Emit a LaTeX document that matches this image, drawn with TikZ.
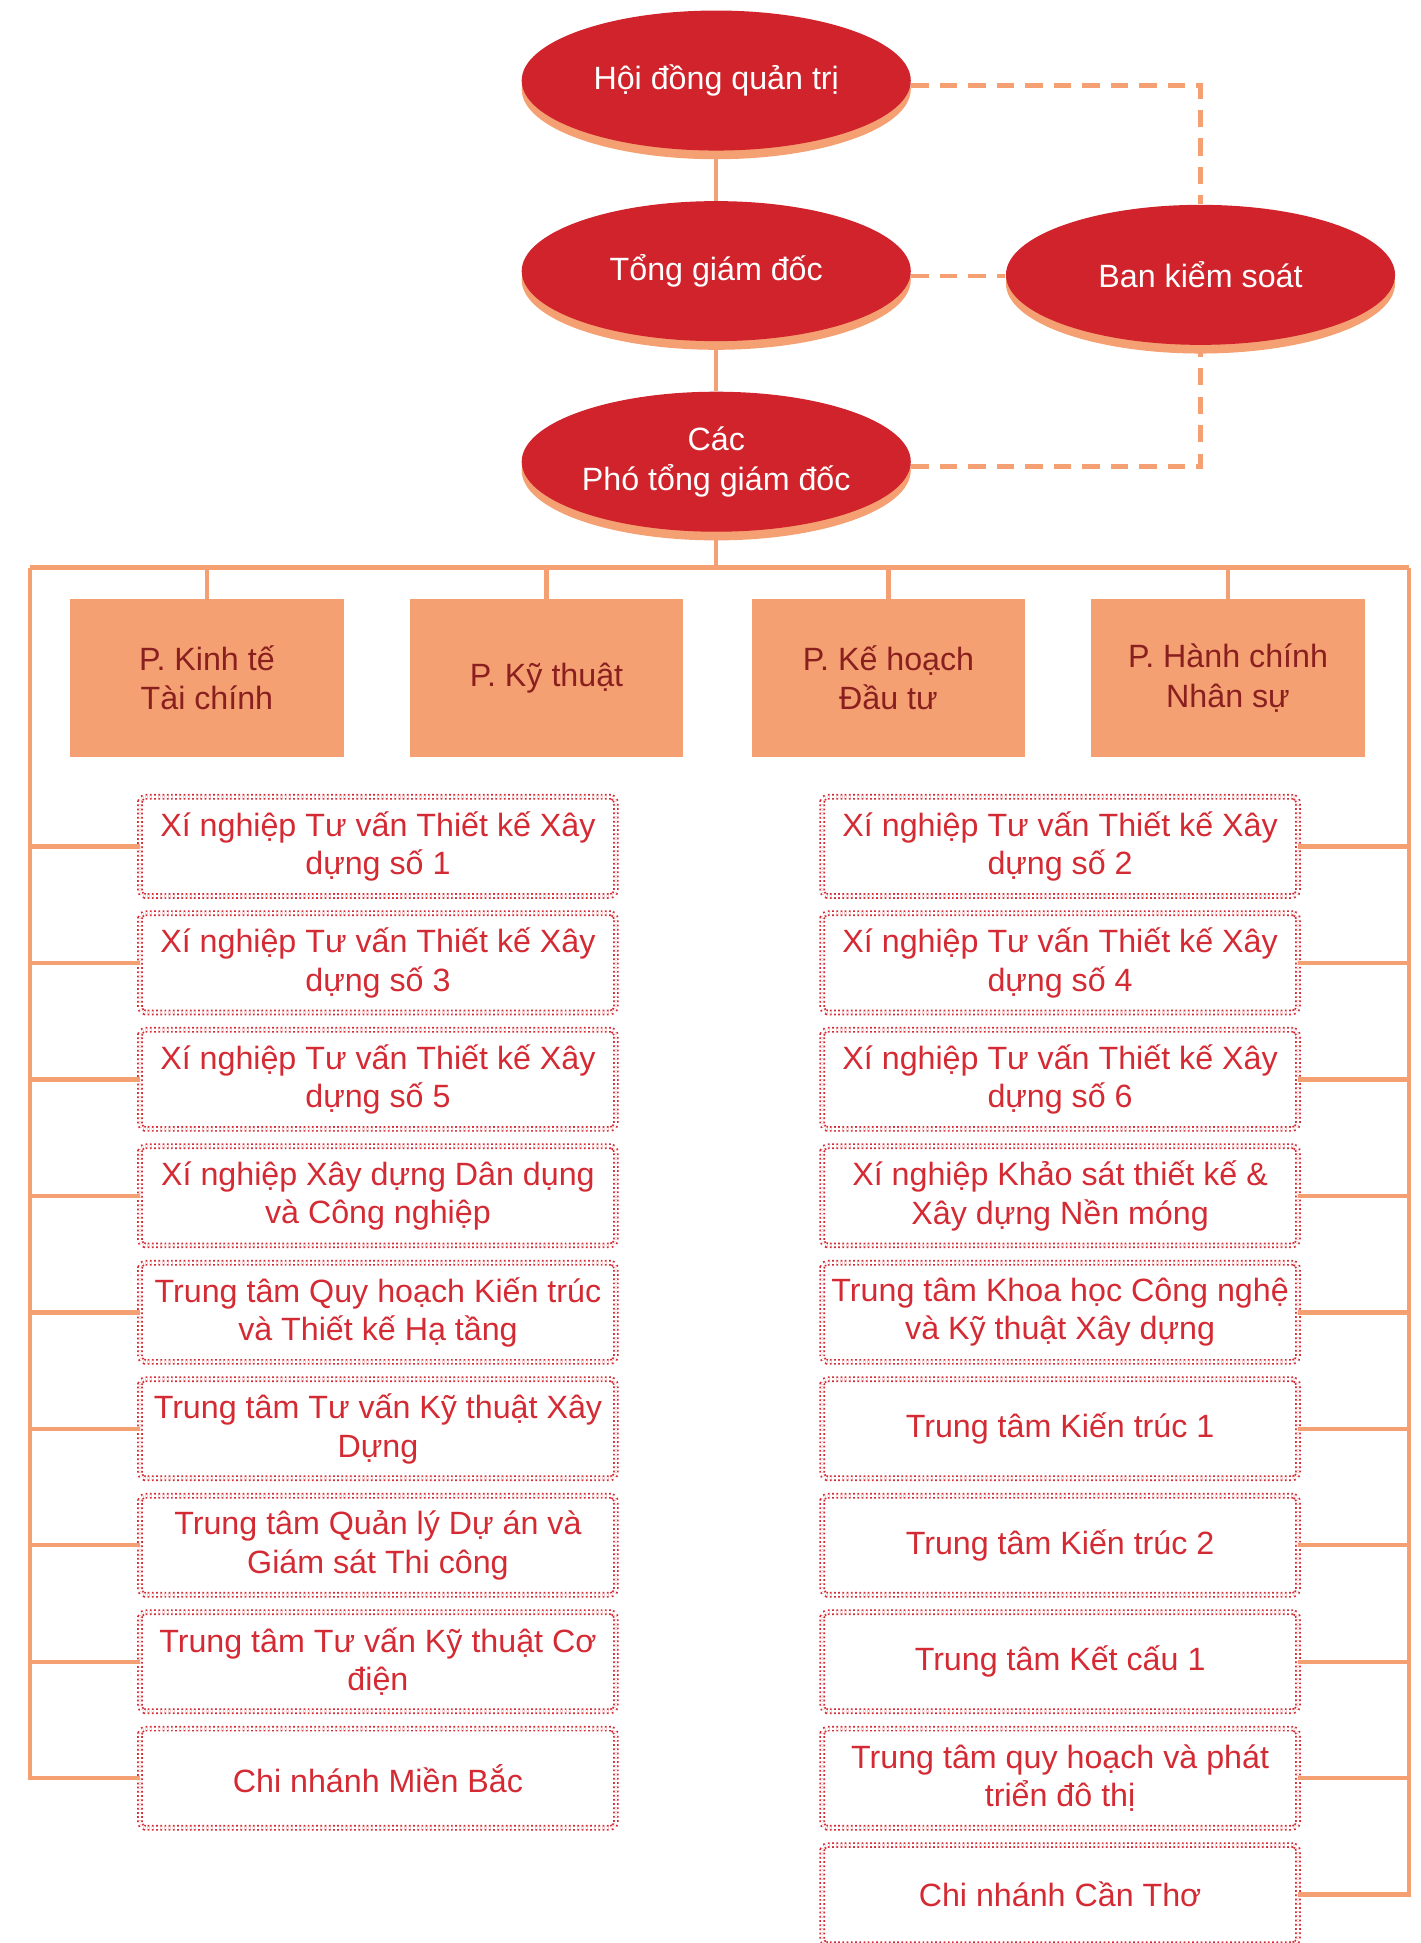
\documentclass[tikz,border=0pt]{standalone}
\usepackage{fontspec}
\setmainfont{Liberation Sans}
\usetikzlibrary{positioning,shapes.geometric,shadows}

\definecolor{ellred}{HTML}{D0232B}
\definecolor{salmon}{HTML}{F4A072}
\definecolor{boxred}{HTML}{D42A33}
\definecolor{deptred}{HTML}{8A1F1F}

\begin{document}
\begin{tikzpicture}[x=0.5pt,y=-0.5pt,
  lead/.style={ellipse, fill=ellred, text=white, minimum width=157pt, minimum height=56.5pt, inner sep=0pt, align=center, font=\fontsize{13}{16}\selectfont, drop shadow={shadow xshift=0pt, shadow yshift=-3.5pt, fill=salmon, opacity=1}},
  dept/.style={rectangle, fill=salmon, text=deptred, minimum width=110.5pt, minimum height=63.5pt, inner sep=0pt, align=center, font=\fontsize{13}{16}\selectfont},
  unit/.style={rectangle, draw=boxred, densely dotted, line width=0.7pt, double=white, double distance=0.9pt, rounded corners=2pt, text=boxred, minimum width=192pt, minimum height=40pt, inner sep=0pt, outer sep=0pt, align=center, font=\fontsize{13}{15.5}\selectfont},
  link/.style={draw=salmon, line width=1.8pt},
  ctrl/.style={draw=salmon, line width=1.9pt, dash pattern=on 7pt off 4.5pt},
  node distance=7pt]
      \useasboundingbox (0,0) rectangle (1146,1568);

      % Leaders
      \node[lead] (hdqt) at (578,65) {Hội đồng quản trị};
      \node[lead, below=20pt of hdqt] (tgd) {Tổng giám đốc};
      \node[lead, below=20pt of tgd] (ptgd) {Các\\Phó tổng giám đốc};
      \node[lead, right=38pt of tgd, yshift=-1.5pt] (bks) {Ban kiểm soát};

      % Departments
      \node[dept] (pkt) at (167,547) {P. Kinh tế\\Tài chính};
      \node[dept] (pkth) at (441,547) {P. Kỹ thuật};
      \node[dept] (pkh) at (717,547) {P. Kế hoạch\\Đầu tư};
      \node[dept] (phc) at (991,547) {P. Hành chính\\Nhân sự};

      % Units, left
      \node[unit] (xn1) at (305,683) {Xí nghiệp Tư vấn Thiết kế Xây\\dựng số 1};
      \node[unit, below=of xn1] (xn3) {Xí nghiệp Tư vấn Thiết kế Xây\\dựng số 3};
      \node[unit, below=of xn3] (xn5) {Xí nghiệp Tư vấn Thiết kế Xây\\dựng số 5};
      \node[unit, below=of xn5] (xnxd) {Xí nghiệp Xây dựng Dân dụng\\và Công nghiệp};
      \node[unit, below=of xnxd] (ttqh) {Trung tâm Quy hoạch Kiến trúc\\và Thiết kế Hạ tầng};
      \node[unit, below=of ttqh] (tttv) {Trung tâm Tư vấn Kỹ thuật Xây\\Dựng};
      \node[unit, below=of tttv] (ttql) {Trung tâm Quản lý Dự án và\\Giám sát Thi công};
      \node[unit, below=of ttql] (ttcd) {Trung tâm Tư vấn Kỹ thuật Cơ\\điện};
      \node[unit, below=of ttcd] (cnmb) {Chi nhánh Miền Bắc};

      % Units, right
      \node[unit] (xn2) at (855.5,683) {Xí nghiệp Tư vấn Thiết kế Xây\\dựng số 2};
      \node[unit, below=of xn2] (xn4) {Xí nghiệp Tư vấn Thiết kế Xây\\dựng số 4};
      \node[unit, below=of xn4] (xn6) {Xí nghiệp Tư vấn Thiết kế Xây\\dựng số 6};
      \node[unit, below=of xn6] (xnks) {Xí nghiệp Khảo sát thiết kế \&\\Xây dựng Nền móng};
      \node[unit, below=of xnks] (ttkh) {Trung tâm Khoa học Công nghệ\\và Kỹ thuật Xây dựng};
      \node[unit, below=of ttkh] (ttkta) {Trung tâm Kiến trúc 1};
      \node[unit, below=of ttkta] (ttktb) {Trung tâm Kiến trúc 2};
      \node[unit, below=of ttktb] (ttkc) {Trung tâm Kết cấu 1};
      \node[unit, below=of ttkc] (ttdt) {Trung tâm quy hoạch và phát\\triển đô thị};
      \node[unit, below=of ttdt] (cnct) {Chi nhánh Cần Thơ};

      \coordinate (busl) at (24,458);
      \coordinate (busr) at (1137,458);

      % Lines
      \draw[link] (hdqt) -- (tgd);
      \draw[link] (tgd) -- (ptgd);
      \draw[link] (ptgd) -- (ptgd |- busl);
      \draw[link] (busl) -- (busr);
      \draw[link] (pkt) -- (pkt |- busl);
      \draw[link] (pkth) -- (pkth |- busl);
      \draw[link] (pkh) -- (pkh |- busl);
      \draw[link] (phc) -- (phc |- busl);
      \draw[link] (busl) |- (cnmb);
      \draw[link] (busr) |- (cnct);
      \draw[link] (xn1) -- (xn1 -| busl);
      \draw[link] (xn3) -- (xn3 -| busl);
      \draw[link] (xn5) -- (xn5 -| busl);
      \draw[link] (xnxd) -- (xnxd -| busl);
      \draw[link] (ttqh) -- (ttqh -| busl);
      \draw[link] (tttv) -- (tttv -| busl);
      \draw[link] (ttql) -- (ttql -| busl);
      \draw[link] (ttcd) -- (ttcd -| busl);
      \draw[link] (xn2) -- (xn2 -| busr);
      \draw[link] (xn4) -- (xn4 -| busr);
      \draw[link] (xn6) -- (xn6 -| busr);
      \draw[link] (xnks) -- (xnks -| busr);
      \draw[link] (ttkh) -- (ttkh -| busr);
      \draw[link] (ttkta) -- (ttkta -| busr);
      \draw[link] (ttktb) -- (ttktb -| busr);
      \draw[link] (ttkc) -- (ttkc -| busr);
      \draw[link] (ttdt) -- (ttdt -| busr);

      % Control lines
      \draw[ctrl] ([yshift=-2pt]hdqt.east) -| (bks);
      \draw[ctrl] ([yshift=-2pt]tgd.east) -- ([yshift=-0.5pt]bks.west);
      \draw[ctrl] ([yshift=-2pt]ptgd.east) -| (bks);

\end{tikzpicture}
\end{document}
